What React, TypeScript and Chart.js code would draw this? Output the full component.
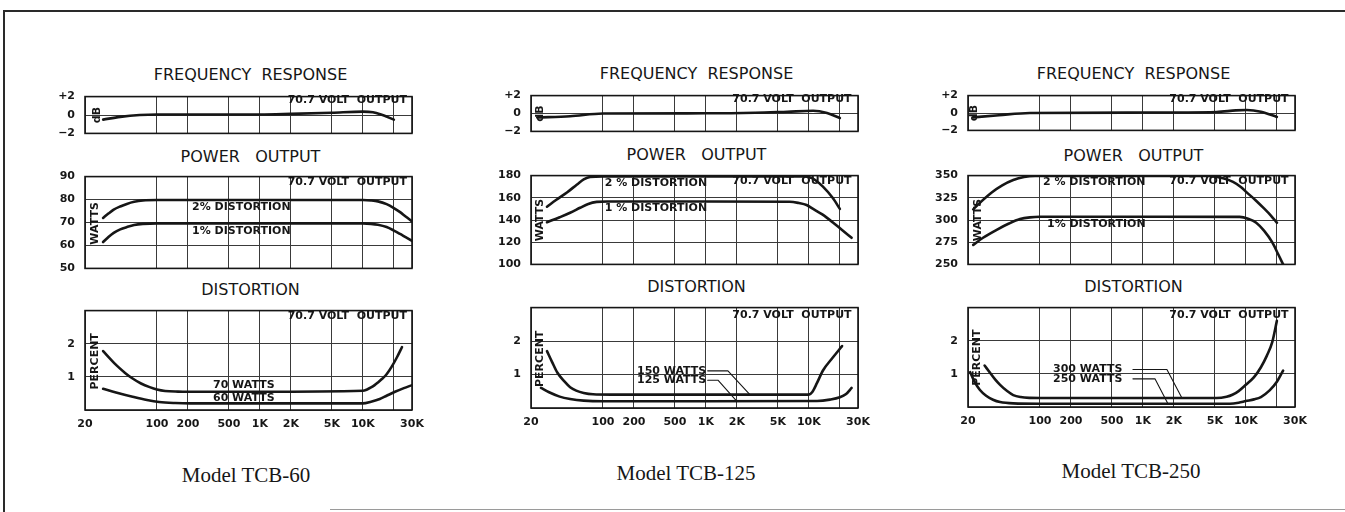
import React, { useEffect, useRef } from 'react';
import { Chart, registerables } from 'chart.js';

Chart.register(...registerables);

// ---------- axes ----------
const FREQ_TICKS = [20, 100, 200, 500, 1000, 2000, 5000, 10000, 20000, 30000];
const FREQ_TICK_LABELS = ['20', '100', '200', '500', '1K', '2K', '5K', '10K', '', '30K'];

const FR_TICKS = [-2, -1, 0, 1, 2];
const FR_TICK_LABELS = ['\u22122', '', '0', '', '+2'];
const DIST_TICKS = [0, 1, 2, 3];
const DIST_TICK_LABELS = ['', '1', '2', ''];
const POWER60_TICKS = [50, 60, 70, 80, 90];
const POWER125_TICKS = [100, 120, 140, 160, 180];
const POWER250_TICKS = [250, 275, 300, 325, 350];

// ---------- TCB-60 ----------
const TCB60_FR_HZ = [30, 44, 68, 100, 500, 1000, 2000, 5000, 10000, 12500, 15000, 20000];
const TCB60_FR_DB = [-0.5, -0.2, 0, 0.05, 0.05, 0.05, 0.12, 0.25, 0.37, 0.3, 0.05, -0.5];
const TCB60_P2_HZ = [30, 34, 38, 44, 51, 60, 73, 100, 1000, 10000, 12000, 14000, 17000, 20000, 23000, 26000, 30000];
const TCB60_P2_W = [72, 74, 75.6, 77, 78.1, 79, 79.6, 79.8, 79.8, 79.8, 79.6, 79.2, 78, 76.3, 74.5, 72.6, 70.5];
const TCB60_P1_HZ = [30, 34, 38, 44, 51, 60, 73, 100, 1000, 10000, 12000, 14000, 17000, 20000, 23000, 26000, 30000];
const TCB60_P1_W = [61.5, 63.8, 65.5, 67, 68, 68.9, 69.4, 69.6, 69.6, 69.6, 69.4, 69, 68, 66.5, 65, 63.6, 62];
const TCB60_D70_HZ = [30, 35, 41, 49, 58, 70, 85, 100, 120, 160, 200, 1000, 10000, 11000, 12000, 13000, 14000, 15500, 17000, 19000, 21500, 24000];
const TCB60_D70_PCT = [1.78, 1.55, 1.33, 1.12, 0.95, 0.8, 0.69, 0.62, 0.575, 0.555, 0.55, 0.55, 0.58, 0.62, 0.68, 0.75, 0.83, 0.95, 1.08, 1.3, 1.6, 1.9];
const TCB60_D60_HZ = [30, 40, 58, 80, 105, 150, 210, 1000, 10000, 12000, 14600, 17000, 20500, 25000, 30000];
const TCB60_D60_PCT = [0.64, 0.53, 0.4, 0.3, 0.24, 0.21, 0.2, 0.2, 0.2, 0.25, 0.33, 0.43, 0.55, 0.66, 0.75];

// ---------- TCB-125 ----------
const TCB125_FR_HZ = [23, 48, 100, 1000, 3000, 6200, 11000, 15000, 20000];
const TCB125_FR_DB = [-0.45, -0.3, 0, 0.02, 0.08, 0.2, 0.3, 0.05, -0.5];
const TCB125_P2_HZ = [28.6, 35, 45, 56, 65, 75, 100, 1000, 9000, 10500, 11500, 13700, 17000, 20000];
const TCB125_P2_W = [152, 158, 165, 172, 176.5, 178.8, 179.3, 179.3, 179.2, 178, 176, 170, 160, 150];
const TCB125_P1_HZ = [28.6, 38, 48, 60, 72, 87, 110, 1000, 6500, 8000, 9500, 11000, 13500, 17000, 21000, 26000];
const TCB125_P1_W = [138, 142.5, 146.5, 151, 154.5, 156.3, 156.7, 156.7, 156.5, 155.3, 153.5, 150, 145, 138, 131, 124];
const TCB125_D150_HZ = [28.6, 32, 36, 42, 48, 55, 65, 80, 120, 1000, 10000, 10800, 12000, 13700, 17000, 21000];
const TCB125_D150_PCT = [1.7, 1.38, 1.06, 0.8, 0.62, 0.52, 0.45, 0.41, 0.4, 0.4, 0.4, 0.48, 0.75, 1.12, 1.5, 1.85];
const TCB125_D125_HZ = [25, 30, 38, 48, 65, 100, 1000, 12000, 16000, 20000, 23000, 26000];
const TCB125_D125_PCT = [0.6, 0.47, 0.34, 0.27, 0.22, 0.2, 0.2, 0.21, 0.25, 0.32, 0.42, 0.6];
const TCB125_L150_HZ = [1040, 1636, 2674];
const TCB125_L150_PCT = [1.11, 1.11, 0.4];
const TCB125_L125_HZ = [1040, 1309, 2000];
const TCB125_L125_PCT = [0.83, 0.83, 0.2];

// ---------- TCB-250 ----------
const TCB250_FR_HZ = [22.5, 40, 80, 1000, 5200, 8000, 10200, 14000, 20000];
const TCB250_FR_DB = [-0.5, -0.25, 0, 0.05, 0.12, 0.3, 0.35, 0.15, -0.45];
const TCB250_P2_HZ = [22.5, 27, 34, 43, 55, 70, 90, 1000, 4200, 6000, 7500, 9000, 10000, 12500, 15000, 17500, 20000];
const TCB250_P2_W = [312, 321, 331, 339, 345, 348.5, 349.7, 349.7, 349.5, 347, 343, 337, 332, 322, 313, 305, 297];
const TCB250_P1_HZ = [22.5, 28, 38, 50, 64, 80, 100, 1000, 8700, 10500, 12600, 15000, 18000, 20500, 23000];
const TCB250_P1_W = [272, 280, 289, 296, 301, 303, 303.7, 303.7, 303.5, 301.5, 297, 288, 275, 262, 250];
const TCB250_D300_HZ = [29, 33, 37, 41, 48, 55, 65, 80, 100, 1000, 5200, 6500, 7400, 8500, 10000, 12000, 14000, 16000, 18000, 20000];
const TCB250_D300_PCT = [1.25, 1.02, 0.82, 0.67, 0.48, 0.36, 0.3, 0.275, 0.27, 0.27, 0.27, 0.31, 0.37, 0.48, 0.67, 0.9, 1.2, 1.55, 1.95, 2.6];
const TCB250_D250_HZ = [21, 23, 26, 30, 35, 41, 55, 100, 1000, 7000, 8500, 10000, 12000, 14000, 17000, 20000, 23000];
const TCB250_D250_PCT = [1.05, 0.78, 0.52, 0.34, 0.22, 0.15, 0.11, 0.1, 0.1, 0.1, 0.13, 0.18, 0.23, 0.3, 0.5, 0.76, 1.1];
const TCB250_L300_HZ = [800, 1710, 2393];
const TCB250_L300_PCT = [1.13, 1.13, 0.27];
const TCB250_L250_HZ = [800, 1309, 1750];
const TCB250_L250_PCT = [0.85, 0.85, 0.1];

// ---------- styles ----------
const INK = '#161616';
const GRID = '#3a3a3a';
const SMALL_FONT = { family: '"DejaVu Sans", sans-serif', size: 11, weight: 'bold' as const };
const NOTE_CSS = 'bold 11px "DejaVu Sans", sans-serif';
const PLOT_W = 327;
const AXIS_W = 45;
const PAD_R = 20;
const PAD_T = 8;
const XAXIS_H = 28;

type Curve = { hz: number[]; v: number[]; thin?: boolean };
type Note = { text: string; hz: number; v: number; align: CanvasTextAlign; rotate?: boolean };
type PanelSpec = {
  id: string;
  left: number;
  top: number;
  bottom: number;
  yTicks: number[];
  yLabels: string[];
  curves: Curve[];
  notes: Note[];
  showX: boolean;
};

function decorPlugin(p: PanelSpec) {
  return {
    id: 'decor',
    afterDatasetsDraw(chart: any) {
      const { ctx, chartArea: a, scales } = chart;
      ctx.save();
      ctx.strokeStyle = INK;
      ctx.lineWidth = 1.6;
      ctx.strokeRect(a.left, a.top, a.right - a.left, a.bottom - a.top);
      ctx.fillStyle = INK;
      ctx.font = NOTE_CSS;
      ctx.textBaseline = 'middle';
      for (const n of p.notes) {
        const x = scales.x.getPixelForValue(n.hz);
        const y = scales.y.getPixelForValue(n.v);
        if (n.rotate) {
          ctx.save();
          ctx.translate(x, y);
          ctx.rotate(-Math.PI / 2);
          ctx.textAlign = 'center';
          ctx.fillText(n.text, 0, 0);
          ctx.restore();
        } else {
          ctx.textAlign = n.align;
          ctx.fillText(n.text, x, y);
        }
      }
      ctx.restore();
    },
  };
}

function buildConfig(p: PanelSpec): any {
  const datasets = p.curves.map((c) => ({
    data: c.hz.map((f, i) => ({ x: f, y: c.v[i] })),
    borderColor: INK,
    borderWidth: c.thin ? 1.1 : 2.6,
    pointRadius: 0,
    fill: false,
    cubicInterpolationMode: c.thin ? 'default' : 'monotone',
    tension: 0,
    borderCapStyle: 'round',
    borderJoinStyle: 'round',
  }));
  return {
    type: 'line',
    data: { datasets },
    options: {
      responsive: false,
      animation: false,
      events: [],
      layout: { padding: { left: 0, right: PAD_R, top: PAD_T, bottom: p.showX ? 0 : 8 } },
      plugins: {
        legend: { display: false },
        tooltip: { enabled: false },
        title: { display: false },
      },
      scales: {
        x: {
          type: 'logarithmic',
          min: 20,
          max: 30000,
          afterBuildTicks: (s: any) => {
            s.ticks = FREQ_TICKS.map((v) => ({ value: v }));
          },
          afterFit: (s: any) => {
            s.height = p.showX ? XAXIS_H : 0;
          },
          grid: { color: GRID, lineWidth: 1, drawTicks: false },
          border: { display: false },
          ticks: {
            display: p.showX,
            autoSkip: false,
            maxRotation: 0,
            minRotation: 0,
            padding: 8,
            color: INK,
            font: SMALL_FONT,
            callback: (_v: any, i: number) => FREQ_TICK_LABELS[i],
          },
        },
        y: {
          type: 'linear',
          min: p.yTicks[0],
          max: p.yTicks[p.yTicks.length - 1],
          afterBuildTicks: (s: any) => {
            s.ticks = p.yTicks.map((v) => ({ value: v }));
          },
          afterFit: (s: any) => {
            s.width = AXIS_W;
          },
          grid: { color: GRID, lineWidth: 1, drawTicks: false },
          border: { display: false },
          ticks: {
            padding: 10,
            color: INK,
            font: SMALL_FONT,
            callback: (_v: any, i: number) => p.yLabels[i],
          },
        },
      },
    },
    plugins: [decorPlugin(p)],
  };
}

function Panel({ spec }: { spec: PanelSpec }) {
  const ref = useRef<HTMLCanvasElement>(null);
  const w = PLOT_W + AXIS_W + PAD_R;
  const h = spec.bottom - spec.top + PAD_T + (spec.showX ? XAXIS_H : 8);
  useEffect(() => {
    const chart = new Chart(ref.current as HTMLCanvasElement, buildConfig(spec));
    return () => chart.destroy();
  }, []);
  return (
    <canvas
      ref={ref}
      width={w}
      height={h}
      style={{ position: 'absolute', left: spec.left - AXIS_W, top: spec.top - PAD_T, width: w, height: h }}
    />
  );
}

const VOLT = '70.7 VOLT  OUTPUT';

type Column = {
  left: number;
  model: string;
  modelX: number;
  modelY: number;
  titleY: number[];
  panels: PanelSpec[];
};

const COLUMNS: Column[] = [
  {
    left: 85,
    model: 'Model TCB-60',
    modelX: 246,
    modelY: 477,
    titleY: [75, 157, 290],
    panels: [
      {
        id: 'fr60', left: 85, top: 88, bottom: 142, yTicks: FR_TICKS, yLabels: FR_TICK_LABELS, showX: false,
        curves: [{ hz: TCB60_FR_HZ, v: TCB60_FR_DB }],
        notes: [
          { text: VOLT, hz: 26800, v: 1.62, align: 'right' },
          { text: 'dB', hz: 26.2, v: 0, align: 'center', rotate: true },
        ],
      },
      {
        id: 'pw60', left: 85, top: 168, bottom: 277, yTicks: POWER60_TICKS, yLabels: POWER60_TICKS.map(String), showX: false,
        curves: [{ hz: TCB60_P2_HZ, v: TCB60_P2_W }, { hz: TCB60_P1_HZ, v: TCB60_P1_W }],
        notes: [
          { text: VOLT, hz: 26800, v: 87.4, align: 'right' },
          { text: '2% DISTORTION', hz: 219, v: 76.7, align: 'left' },
          { text: '1% DISTORTION', hz: 219, v: 66.3, align: 'left' },
          { text: 'WATTS', hz: 25, v: 69.6, align: 'center', rotate: true },
        ],
      },
      {
        id: 'ds60', left: 85, top: 302, bottom: 410, yTicks: DIST_TICKS, yLabels: DIST_TICK_LABELS, showX: true,
        curves: [{ hz: TCB60_D70_HZ, v: TCB60_D70_PCT }, { hz: TCB60_D60_HZ, v: TCB60_D60_PCT }],
        notes: [
          { text: VOLT, hz: 26800, v: 2.83, align: 'right' },
          { text: '70 WATTS', hz: 350, v: 0.75, align: 'left' },
          { text: '60 WATTS', hz: 350, v: 0.36, align: 'left' },
          { text: 'PERCENT', hz: 25, v: 1.47, align: 'center', rotate: true },
        ],
      },
    ],
  },
  {
    left: 531,
    model: 'Model TCB-125',
    modelX: 686,
    modelY: 475,
    titleY: [74, 155, 287],
    panels: [
      {
        id: 'fr125', left: 531, top: 87, bottom: 140, yTicks: FR_TICKS, yLabels: FR_TICK_LABELS, showX: false,
        curves: [{ hz: TCB125_FR_HZ, v: TCB125_FR_DB }],
        notes: [
          { text: VOLT, hz: 26000, v: 1.55, align: 'right' },
          { text: 'dB', hz: 24.6, v: 0, align: 'center', rotate: true },
        ],
      },
      {
        id: 'pw125', left: 531, top: 167, bottom: 273, yTicks: POWER125_TICKS, yLabels: POWER125_TICKS.map(String), showX: false,
        curves: [{ hz: TCB125_P2_HZ, v: TCB125_P2_W }, { hz: TCB125_P1_HZ, v: TCB125_P1_W }],
        notes: [
          { text: VOLT, hz: 26000, v: 174.7, align: 'right' },
          { text: '2 % DISTORTION', hz: 104, v: 173, align: 'left' },
          { text: '1 % DISTORTION', hz: 104, v: 150.7, align: 'left' },
          { text: 'WATTS', hz: 24.5, v: 140, align: 'center', rotate: true },
        ],
      },
      {
        id: 'ds125', left: 531, top: 299, bottom: 408, yTicks: DIST_TICKS, yLabels: DIST_TICK_LABELS, showX: true,
        curves: [
          { hz: TCB125_D150_HZ, v: TCB125_D150_PCT },
          { hz: TCB125_D125_HZ, v: TCB125_D125_PCT },
          { hz: TCB125_L150_HZ, v: TCB125_L150_PCT, thin: true },
          { hz: TCB125_L125_HZ, v: TCB125_L125_PCT, thin: true },
        ],
        notes: [
          { text: VOLT, hz: 26000, v: 2.78, align: 'right' },
          { text: '150 WATTS', hz: 214, v: 1.11, align: 'left' },
          { text: '125 WATTS', hz: 214, v: 0.83, align: 'left' },
          { text: 'PERCENT', hz: 24.5, v: 1.47, align: 'center', rotate: true },
        ],
      },
    ],
  },
  {
    left: 968,
    model: 'Model TCB-250',
    modelX: 1131,
    modelY: 473,
    titleY: [74, 156, 287],
    panels: [
      {
        id: 'fr250', left: 968, top: 87, bottom: 139, yTicks: FR_TICKS, yLabels: FR_TICK_LABELS, showX: false,
        curves: [{ hz: TCB250_FR_HZ, v: TCB250_FR_DB }],
        notes: [
          { text: VOLT, hz: 26000, v: 1.62, align: 'right' },
          { text: 'dB', hz: 22.9, v: 0, align: 'center', rotate: true },
        ],
      },
      {
        id: 'pw250', left: 968, top: 167, bottom: 273, yTicks: POWER250_TICKS, yLabels: POWER250_TICKS.map(String), showX: false,
        curves: [{ hz: TCB250_P2_HZ, v: TCB250_P2_W }, { hz: TCB250_P1_HZ, v: TCB250_P1_W }],
        notes: [
          { text: VOLT, hz: 26000, v: 343.4, align: 'right' },
          { text: '2 % DISTORTION', hz: 107, v: 342.5, align: 'left' },
          { text: '1% DISTORTION', hz: 117, v: 295.3, align: 'left' },
          { text: 'WATTS', hz: 25, v: 300, align: 'center', rotate: true },
        ],
      },
      {
        id: 'ds250', left: 968, top: 299, bottom: 407, yTicks: DIST_TICKS, yLabels: DIST_TICK_LABELS, showX: true,
        curves: [
          { hz: TCB250_D300_HZ, v: TCB250_D300_PCT },
          { hz: TCB250_D250_HZ, v: TCB250_D250_PCT },
          { hz: TCB250_L300_HZ, v: TCB250_L300_PCT, thin: true },
          { hz: TCB250_L250_HZ, v: TCB250_L250_PCT, thin: true },
        ],
        notes: [
          { text: VOLT, hz: 26000, v: 2.78, align: 'right' },
          { text: '300 WATTS', hz: 134, v: 1.13, align: 'left' },
          { text: '250 WATTS', hz: 134, v: 0.85, align: 'left' },
          { text: 'PERCENT', hz: 24.5, v: 1.49, align: 'center', rotate: true },
        ],
      },
    ],
  },
];

const TITLES = ['FREQUENCY  RESPONSE', 'POWER   OUTPUT', 'DISTORTION'];

export default function App() {
  return (
    <div
      style={{
        position: 'absolute',
        left: 0,
        top: 0,
        width: 1345,
        height: 512,
        background: '#ffffff',
        overflow: 'hidden',
      }}
    >
      {/* page frame */}
      <div style={{ position: 'absolute', left: 3, top: 10, width: 1342, height: 2, background: '#2a2a2a' }} />
      <div style={{ position: 'absolute', left: 3, top: 10, width: 2, height: 502, background: '#2a2a2a' }} />
      <div style={{ position: 'absolute', left: 330, top: 509, width: 1015, height: 1, background: '#9a9a9a' }} />

      {COLUMNS.map((col) => (
        <React.Fragment key={col.model}>
          {TITLES.map((t, i) => (
            <div
              key={t}
              style={{
                position: 'absolute',
                left: col.left + 2,
                width: PLOT_W,
                top: col.titleY[i] - 10,
                height: 20,
                lineHeight: '20px',
                textAlign: 'center',
                whiteSpace: 'pre',
                font: '16px "DejaVu Sans", sans-serif',
                color: INK,
              }}
            >
              {t}
            </div>
          ))}
          {col.panels.map((p) => (
            <Panel key={p.id} spec={p} />
          ))}
          <div
            style={{
              position: 'absolute',
              left: col.modelX - 150,
              width: 300,
              top: col.modelY - 14,
              height: 28,
              lineHeight: '28px',
              textAlign: 'center',
              whiteSpace: 'pre',
              font: '21px "Liberation Serif", serif',
              color: INK,
            }}
          >
            {col.model}
          </div>
        </React.Fragment>
      ))}
    </div>
  );
}
